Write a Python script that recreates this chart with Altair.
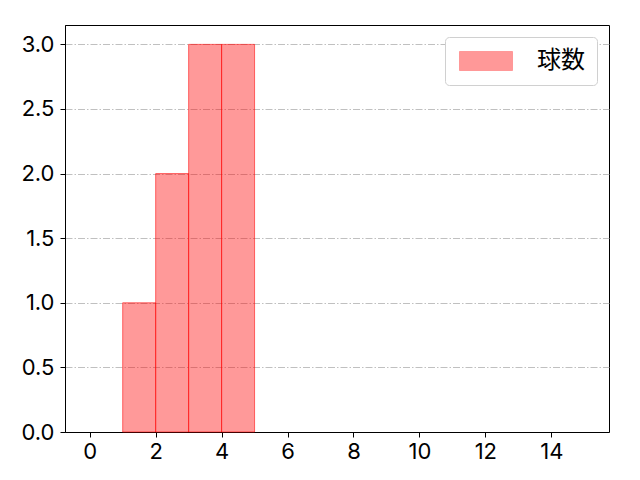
import altair as alt
import pandas as pd

bin_start = [1, 2, 3, 4]
bin_end = [2, 3, 4, 5]
counts = [1, 2, 3, 3]
series = ["球数"] * 4

df = pd.DataFrame({"start": bin_start, "end": bin_end, "count": counts, "series": series})

TICK_FONT = "Inter"
CJK_FONT = "Noto Sans CJK JP"

# legend symbol: 53 x 19 px rectangle drawn with symbolSize 19^2 (scale 9.5 px per unit)
sym_path = "M-1,-1L4.58,-1L4.58,1L-1,1Z"

bars = alt.Chart(df).mark_rect(
    fillOpacity=0.4, stroke="red", strokeOpacity=0.55, strokeWidth=1
).encode(
    x=alt.X("start:Q", scale=alt.Scale(domain=[-0.75, 15.75], nice=False, zero=False),
            axis=alt.Axis(values=[0, 2, 4, 6, 8, 10, 12, 14], title=None, grid=False,
                          format="d", labelPadding=4)),
    x2="end:Q",
    y=alt.Y("count:Q", scale=alt.Scale(domain=[0, 3.15], nice=False),
            axis=alt.Axis(values=[0, 0.5, 1.0, 1.5, 2.0, 2.5, 3.0], format=".1f", title=None,
                          grid=True, gridColor="#b0b0b0", gridDash=[7, 2, 1.5, 2],
                          gridWidth=0.8, labelPadding=6)),
    y2=alt.datum(0),
    color=alt.Color("series:N", scale=alt.Scale(domain=["球数"], range=["red"]),
                    legend=alt.Legend(title=None, orient="top-right",
                                      symbolType=sym_path,
                                      symbolSize=361, symbolOpacity=0.4,
                                      symbolStrokeColor="red", symbolStrokeWidth=1,
                                      labelFontSize=24, labelFont=CJK_FONT, labelOffset=56,
                                      labelColor="black",
                                      fillColor="white", strokeColor="#d0d0d0",
                                      cornerRadius=4, padding=12, offset=12)),
)

chart = bars.properties(
    width=544, height=407,
    autosize=alt.AutoSizeParams(type="none"),
    padding={"left": 57, "top": 17, "right": 23, "bottom": 40},
).configure_view(
    stroke="black", strokeWidth=1
).configure_axis(
    domainColor="black", tickColor="black", tickSize=5, labelFontSize=22,
    labelFont=TICK_FONT, labelColor="black", domainWidth=1
).configure_legend(
    symbolFillColor="red"
)

chart.save("out.html", embed_options={"renderer": "svg", "actions": False})
